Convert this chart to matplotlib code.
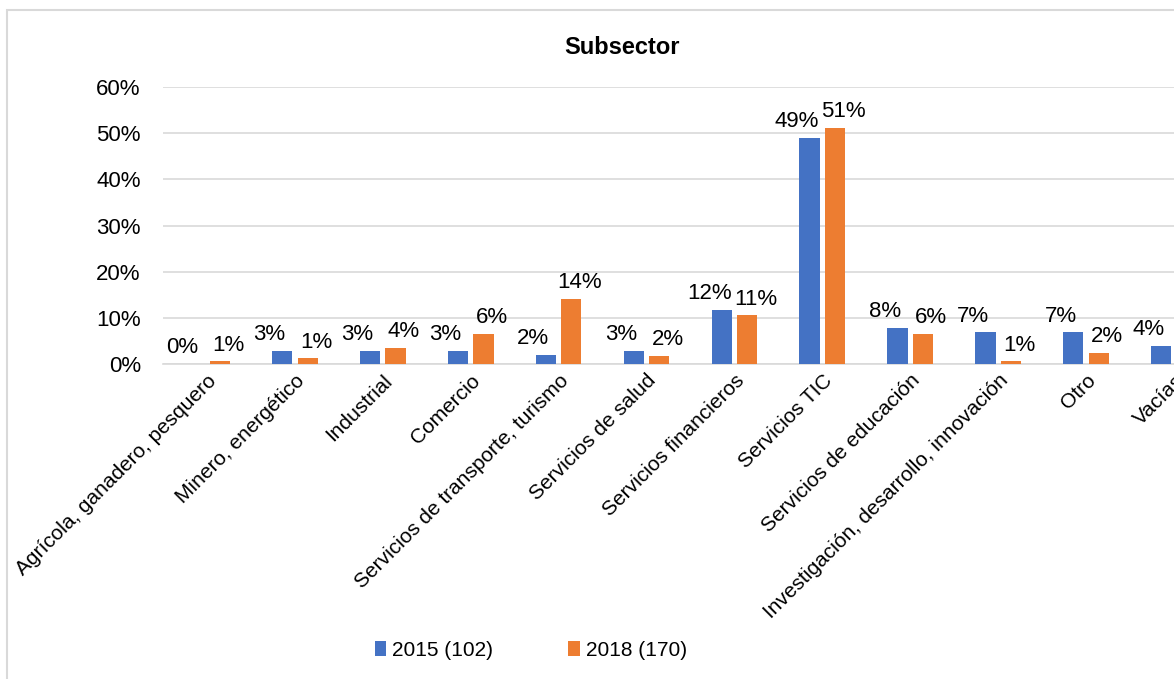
import numpy as np
from matplotlib import pyplot as plt
import matplotlib
from matplotlib.patches import Rectangle

matplotlib.rcParams['font.family'] = ['Liberation Sans', 'DejaVu Sans']

# datos
categorias = ['Agrícola, ganadero, pesquero', 'Minero, energético', 'Industrial', 'Comercio',
              'Servicios de transporte, turismo', 'Servicios de salud', 'Servicios financieros',
              'Servicios TIC', 'Servicios de educación', 'Investigación, desarrollo, innovación',
              'Otro', 'Vacías']
v2015 = [0.0, 2.9, 2.9, 2.9, 2.0, 2.9, 11.8, 49.0, 7.8, 6.9, 6.9, 3.9]
v2018 = [0.6, 1.2, 3.5, 6.5, 14.1, 1.8, 10.6, 51.2, 6.5, 0.6, 2.4, 4.1]
etiqueta_2015 = '2015 (102)'
etiqueta_2018 = '2018 (170)'

azul = '#4472C4'
naranja = '#ED7D31'
fs = 15

fig = plt.figure(figsize=(11.74, 6.79), dpi=100)
ax = fig.add_axes([163 / 1174, 1 - 364 / 679, 1 - 163 / 1174, (364 - 87) / 679])

x = np.arange(len(categorias))
w = 0.23
off = 0.145
b1 = ax.bar(x - off, v2015, w, color=azul, label=etiqueta_2015, zorder=3)
b2 = ax.bar(x + off, v2018, w, color=naranja, label=etiqueta_2018, zorder=3)

# etiquetas de datos (desplazadas hacia afuera como en Excel)
for barras, dx in ((b1, -9), (b2, 6)):
    for b in barras:
        h = b.get_height()
        ax.annotate(f'{h:.0f}%', (b.get_x() + b.get_width() / 2, h),
                    xytext=(dx, 4), textcoords='offset points',
                    ha='center', va='bottom', fontsize=fs + 1, color='black')

ax.set_ylim(0, 60)
ax.set_xlim(-0.5, 11.0)
ax.set_yticks(range(0, 61, 10))
ax.set_yticklabels([f'{v}%' for v in range(0, 61, 10)], fontsize=fs + 1)
ax.yaxis.grid(True, color='#d9d9d9', linewidth=1.2, zorder=0)
ax.set_axisbelow(True)
ax.tick_params(axis='y', length=0, pad=16)
ax.tick_params(axis='x', length=0, pad=5)
ax.set_xticks(x)
ax.set_xticklabels(categorias, rotation=45, ha='right', va='top',
                   rotation_mode='anchor', fontsize=fs)
for s in ['top', 'right', 'left']:
    ax.spines[s].set_visible(False)
ax.spines['bottom'].set_color('#d9d9d9')
ax.spines['bottom'].set_linewidth(1.2)

fig.text(622 / 1174, 1 - 47 / 679, 'Subsector', ha='center', va='center',
         fontsize=17, fontweight='bold')

fig.legend(handles=[b1, b2], loc='center', bbox_to_anchor=(531 / 1174, 1 - 650 / 679),
           ncol=2, frameon=False, fontsize=fs, handlelength=0.55, handleheight=0.75,
           columnspacing=3.6, handletextpad=0.3)

# borde del gráfico
fig.patches.append(Rectangle((7 / 1174, -0.1), 1.5, 1 - 10 / 679 + 0.1,
                             transform=fig.transFigure, fill=False,
                             edgecolor='#d9d9d9', linewidth=1.5))

plt.savefig('out.png', dpi=100)
